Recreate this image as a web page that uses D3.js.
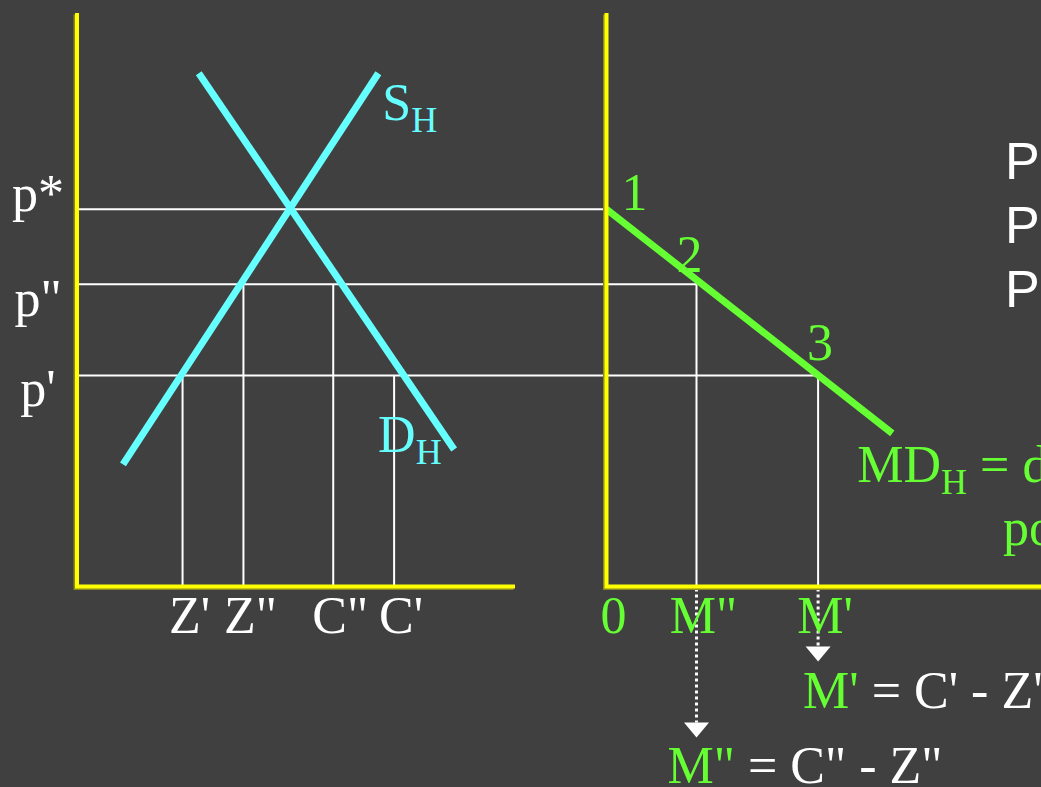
<!DOCTYPE html>
<html>
<head>
<meta charset="utf-8">
<script src="https://cdn.jsdelivr.net/npm/d3@7/dist/d3.min.js"></script>
<style>
  html, body { margin: 0; padding: 0; background: #404040; overflow: hidden; }
  svg { display: block; }
  .serif { font-family: "Liberation Serif", "Times New Roman", serif; }
  .sans { font-family: "Liberation Sans", Arial, sans-serif; }
</style>
</head>
<body>
<div id="okvir"></div>
<script>
// values (0-100 units on both axes)
const priceLabels = ["p*", "p\"", "p'"]
const priceValues = [65.8, 52.7, 36.8]

const qtyLabels = ["Z'", "Z\"", "C\"", "C'"]
const qtyValues = [24.1, 38.0, 58.5, 72.4]
const qtyPrices = [36.8, 52.7, 52.7, 36.8]

const supplyH = [[10.5, 21.3], [68.8, 89.5]]
const demandH = [[27.8, 89.5], [86.1, 23.9]]

const importLabels = ["0", "M\"", "M'"]
const importValues = [0, 20.5, 48.2]
const importPrices = [65.8, 52.7, 36.8]
const importDemandH = [[0, 65.8], [65.1, 26.7]]
const pointLabels = ["1", "2", "3"]

const notes = ["Při ceně p*: M = 0", "Pokud p = p\": M = M\"", "Pokud p = p': M = M'"]

function drawChart() {

  // 1. Dimensions and colours

  const dims = { width: 1041, height: 787, axisBottom: 586.5, axisTop: 13 }
  const c = {
    bg: "#404040",
    axis: "#ffff00",
    axisShadow: "#8a8a1e",
    cyan: "#66ffff",
    green: "#66ff33",
    white: "#ffffff",
  }

  // 2. Canvas

  const svg = d3.select("#okvir")
    .append("svg")
      .attr("width", dims.width)
      .attr("height", dims.height)

  svg.append("rect")
      .attr("width", dims.width)
      .attr("height", dims.height)
      .attr("fill", c.bg)

  // 3. Scales

  const yScale = d3.scaleLinear().domain([0, 100]).range([dims.axisBottom, dims.axisTop])
  const xLeft = d3.scaleLinear().domain([0, 100]).range([77, 515])
  const xRight = d3.scaleLinear().domain([0, 100]).range([606.5, 1045.5])

  // 4. Guide lines

  const guides = svg.append("g")
      .attr("stroke", c.white)
      .attr("stroke-width", 2)

  guides.selectAll(".price-line")
    .data(priceValues)
    .join("line")
      .attr("class", "price-line")
      .attr("x1", xLeft(0) + 2)
      .attr("x2", (d, i) => xRight(importValues[i]))
      .attr("y1", d => yScale(d))
      .attr("y2", d => yScale(d))

  guides.selectAll(".qty-line")
    .data(qtyValues)
    .join("line")
      .attr("class", "qty-line")
      .attr("x1", d => xLeft(d))
      .attr("x2", d => xLeft(d))
      .attr("y1", (d, i) => yScale(qtyPrices[i]))
      .attr("y2", yScale(0))

  guides.selectAll(".imp-line")
    .data(importValues.slice(1))
    .join("line")
      .attr("class", "imp-line")
      .attr("x1", d => xRight(d))
      .attr("x2", d => xRight(d))
      .attr("y1", (d, i) => yScale(importPrices[i + 1]))
      .attr("y2", yScale(0))

  // dotted arrows down to the equations
  const arrowLen = [136, 60]
  const arrows = svg.append("g")
  importValues.slice(1).forEach((m, i) => {
    const x = xRight(m)
    const yEnd = yScale(0) + arrowLen[i]
    arrows.append("line")
        .attr("x1", x).attr("x2", x)
        .attr("y1", yScale(0) + 2).attr("y2", yEnd)
        .attr("stroke", c.white)
        .attr("stroke-width", 3)
        .attr("stroke-dasharray", "3,3")
    arrows.append("path")
        .attr("d", `M${x - 12.5},${yEnd}L${x + 12.5},${yEnd}L${x},${yEnd + 15}Z`)
        .attr("fill", c.white)
  })

  // 5. Curves

  const leftLine = d3.line().x(d => xLeft(d[0])).y(d => yScale(d[1]))
  const rightLine = d3.line().x(d => xRight(d[0])).y(d => yScale(d[1]))

  svg.selectAll(".sd")
    .data([supplyH, demandH])
    .join("path")
      .attr("class", "sd")
      .attr("d", leftLine)
      .attr("fill", "none")
      .attr("stroke", c.cyan)
      .attr("stroke-width", 7)

  svg.append("path")
      .attr("d", rightLine(importDemandH))
      .attr("fill", "none")
      .attr("stroke", c.green)
      .attr("stroke-width", 7)

  // 6. Axes

  const axisPath = x => `M${x(0)},${yScale(100)}V${yScale(0)}H${x(100)}`
  ;[xLeft, xRight].forEach(x => {
    svg.append("path")
        .attr("d", axisPath(x))
        .attr("transform", "translate(-1.5,1.5)")
        .attr("fill", "none")
        .attr("stroke", c.axisShadow)
        .attr("stroke-width", 4)
    svg.append("path")
        .attr("d", axisPath(x))
        .attr("fill", "none")
        .attr("stroke", c.axis)
        .attr("stroke-width", 4)
  })

  // 7. Labels

  const txt = svg.append("g")
      .attr("class", "serif")
      .attr("font-size", 52)

  const priceDy = [2, 32, 31]
  txt.selectAll(".price-label")
    .data(priceLabels)
    .join("text")
      .attr("class", "price-label")
      .attr("x", 38)
      .attr("y", (d, i) => yScale(priceValues[i]) + priceDy[i])
      .attr("text-anchor", "middle")
      .attr("fill", c.white)
      .text(d => d)

  txt.selectAll(".qty-label")
    .data(qtyLabels)
    .join("text")
      .attr("class", "qty-label")
      .attr("x", (d, i) => xLeft(qtyValues[i]) + 7)
      .attr("y", 633)
      .attr("text-anchor", "middle")
      .attr("fill", c.white)
      .text(d => d)

  txt.selectAll(".imp-label")
    .data(importLabels)
    .join("text")
      .attr("class", "imp-label")
      .attr("x", (d, i) => xRight(importValues[i]) + 7)
      .attr("y", 633)
      .attr("text-anchor", "middle")
      .attr("fill", c.green)
      .text(d => d)

  const pointOffset = [[15, 1], [-20, -12], [-11, -15]]
  txt.selectAll(".pt-label")
    .data(pointLabels)
    .join("text")
      .attr("class", "pt-label")
      .attr("x", (d, i) => xRight(importValues[i]) + pointOffset[i][0])
      .attr("y", (d, i) => yScale(importPrices[i]) + pointOffset[i][1])
      .attr("fill", c.green)
      .text(d => d)

  // labels with subscript H
  const subLabel = (x, y, main, rest, color) => {
    const t = txt.append("text")
        .attr("x", x)
        .attr("y", y)
        .attr("fill", color)
    t.append("tspan").text(main)
    t.append("tspan").attr("font-size", 36).attr("dy", 12).text("H")
    if (rest) t.append("tspan").attr("dy", -12).text(rest)
    return t
  }

  subLabel(xLeft(supplyH[1][0]) + 4, yScale(supplyH[1][1]) + 47, "S", null, c.cyan)
  subLabel(xLeft(demandH[1][0]) - 76, yScale(demandH[1][1]) + 3, "D", null, c.cyan)
  subLabel(xRight(importDemandH[1][0]) - 35, yScale(importDemandH[1][1]) + 49, "MD", " = domácí poptávka", c.green)

  txt.append("text")
      .attr("x", 1003)
      .attr("y", 545)
      .attr("fill", c.green)
      .text("po dovozu")

  // equations under the arrows
  const eqs = [["M'", " = C' - Z'", 708], ["M\"", " = C\" - Z\"", 783]]
  const eqX = [xRight(importValues[2]) - 15, xRight(importValues[1]) - 29]
  eqs.forEach((e, i) => {
    const t = txt.append("text")
        .attr("x", eqX[i])
        .attr("y", e[2])
        .attr("xml:space", "preserve")
    t.append("tspan").attr("fill", c.green).text(e[0])
    t.append("tspan").attr("fill", c.white).text(e[1])
  })

  // notes on the right edge
  svg.append("g")
      .attr("class", "sans")
      .attr("font-size", 52)
    .selectAll("text")
    .data(notes)
    .join("text")
      .attr("x", 1005)
      .attr("y", (d, i) => 179 + i * 64)
      .attr("fill", c.white)
      .text(d => d)
}
drawChart()
</script>
</body>
</html>
